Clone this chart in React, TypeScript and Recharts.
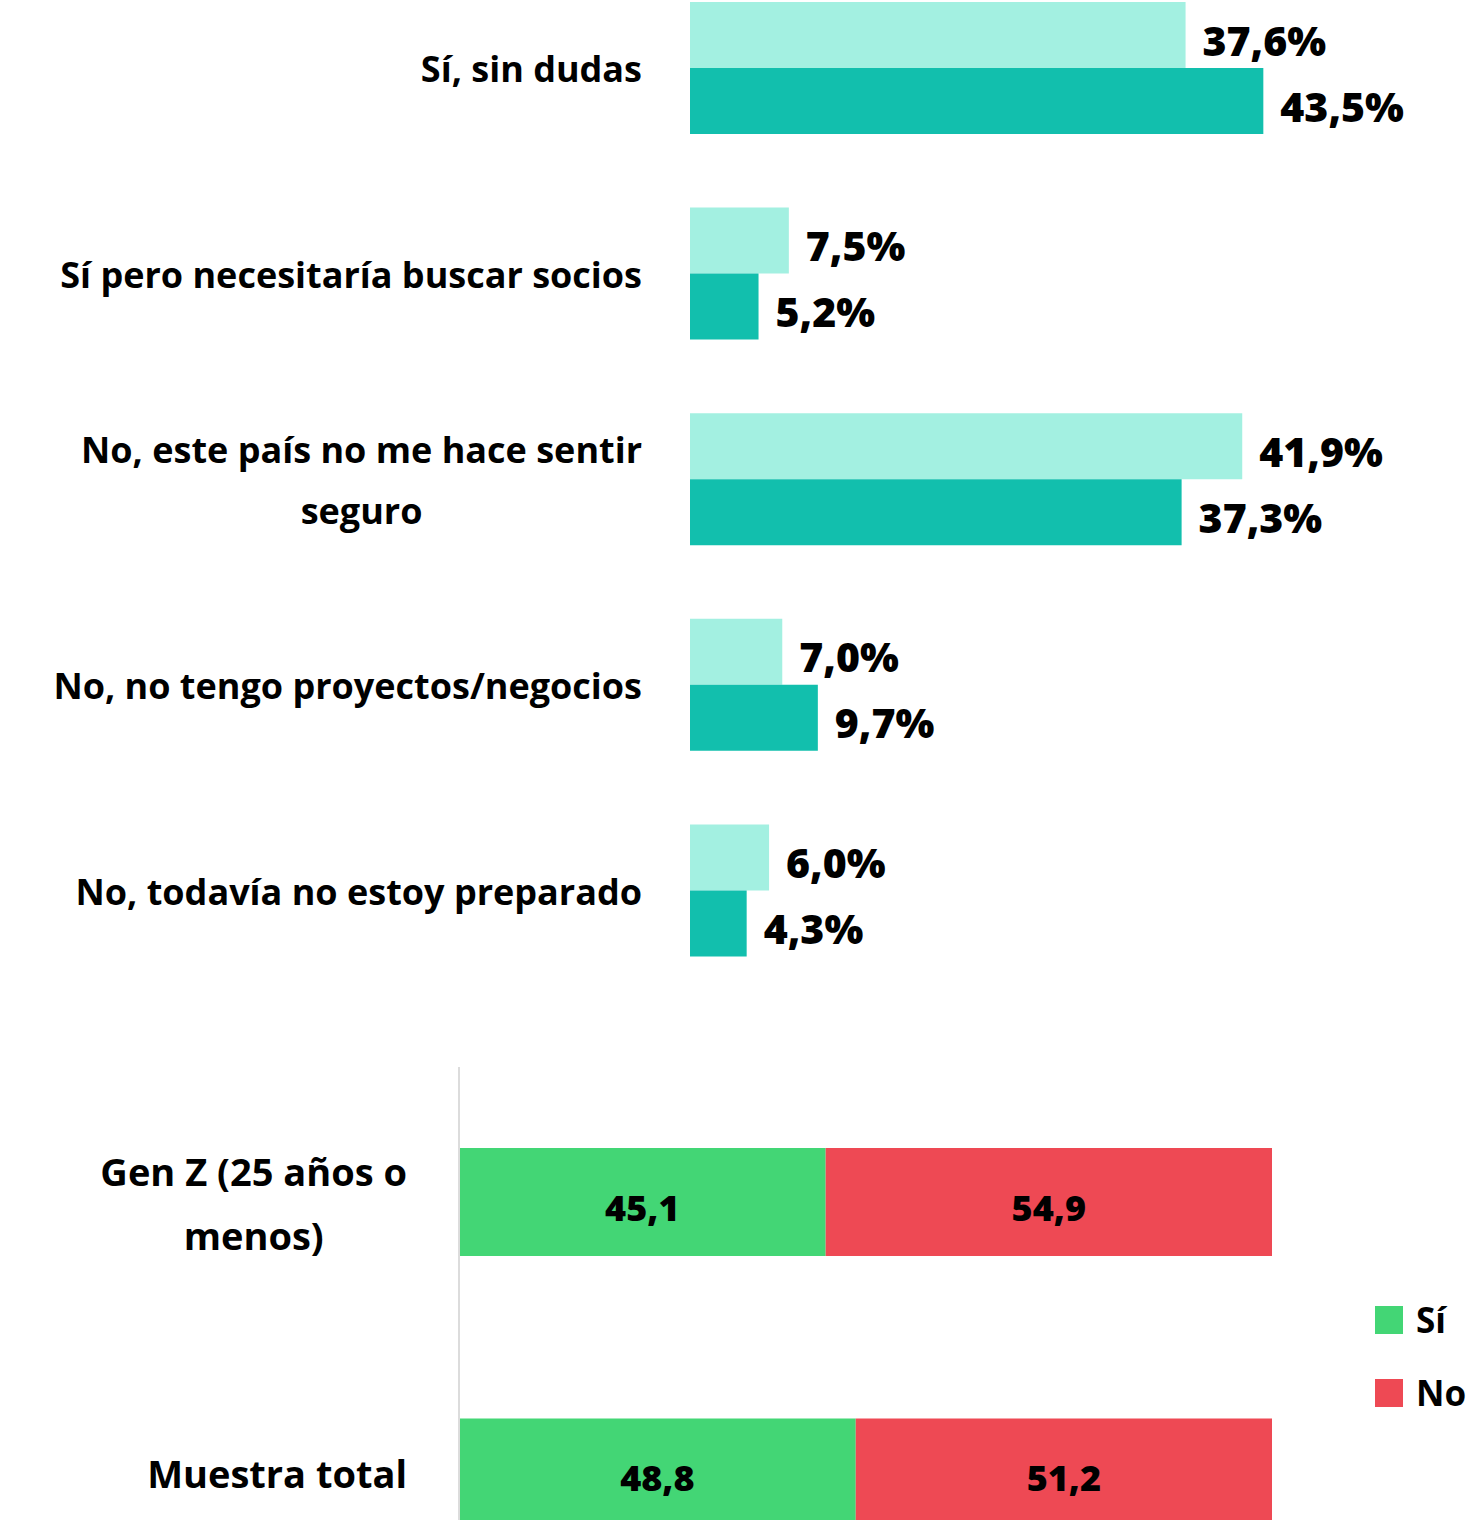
import React from 'react';
import { BarChart, Bar, XAxis, YAxis, LabelList, Legend } from 'recharts';

// top chart: answers, two series
const answers = [
  'Sí, sin dudas',
  'Sí pero necesitaría buscar socios',
  'No, este país no me hace sentir\nseguro',
  'No, no tengo proyectos/negocios',
  'No, todavía no estoy preparado',
];
const genZ = [37.6, 7.5, 41.9, 7.0, 6.0];
const total = [43.5, 5.2, 37.3, 9.7, 4.3];

// bottom chart: Sí / No split
const groups = ['Gen Z (25 años o\nmenos)', 'Muestra total'];
const siValues = [45.1, 48.8];
const noValues = [54.9, 51.2];

const FONT = '"Open Sans", "Noto Sans", sans-serif';
const LIGHT = '#a3f0e1';
const DARK = '#12bfad';
const GREEN = '#43d675';
const RED = '#ee4954';

const topData = answers.map((name, i) => ({ name, genZ: genZ[i], total: total[i] }));
const bottomData = groups.map((name, i) => ({ name, si: siValues[i], no: noValues[i] }));

const fmt = (v: number) => v.toFixed(1).replace('.', ',');

let ctx: CanvasRenderingContext2D | null = null;
function measure(text: string, font: string) {
  if (!ctx) ctx = document.createElement('canvas').getContext('2d');
  if (!ctx) return text.length * 18;
  ctx.font = font;
  return ctx.measureText(text).width;
}

function WrapTick(props: any) {
  const { x, y, payload, gap, size, lineHeight, shift } = props;
  const lines = String(payload.value).split('\n');
  const font = `700 ${size}px ${FONT}`;
  const w = Math.max(...lines.map((l) => measure(l, font)));
  const cx = x - gap - w / 2;
  const y0 = y + (shift || 0) - ((lines.length - 1) * lineHeight) / 2;
  return (
    <text textAnchor="middle" fontFamily={FONT} fontWeight={700} fontSize={size} fill="#000">
      {lines.map((l, i) => (
        <tspan key={i} x={cx} y={y0 + i * lineHeight} dy="0.35em">
          {l}
        </tspan>
      ))}
    </text>
  );
}

function LegendBox(props: any) {
  const order = ['Sí', 'No'];
  const items = [...(props.payload || [])].sort(
    (a: any, b: any) => order.indexOf(a.value) - order.indexOf(b.value)
  );
  return (
    <div style={{ fontFamily: FONT, fontWeight: 700, fontSize: 35, color: '#000' }}>
      {items.map((it: any) => (
        <div key={it.value} style={{ display: 'flex', alignItems: 'center', height: 73 }}>
          <span style={{ width: 28, height: 28, background: it.color, display: 'inline-block', marginRight: 13 }} />
          <span>{it.value}</span>
        </div>
      ))}
    </div>
  );
}

const valueLabel = {
  fill: '#000',
  fontSize: 41,
  fontWeight: 800,
  fontFamily: FONT,
  dy: 6,
};

export default function App() {
  return (
    <div style={{ position: 'absolute', left: 0, top: 0, width: 1472, height: 1520, overflow: 'hidden', background: '#fff' }}>
      <div style={{ position: 'absolute', left: 0, top: -35 }}>
        <BarChart
          layout="vertical"
          width={1472}
          height={1028}
          data={topData}
          margin={{ top: 0, right: 123, bottom: 0, left: 0 }}
          barGap={0}
        >
          <XAxis type="number" domain={[0, 50]} hide />
          <YAxis
            type="category"
            dataKey="name"
            width={690}
            axisLine={false}
            tickLine={false}
            tickSize={0}
            tickMargin={0}
            interval={0}
            tick={(p: any) => <WrapTick {...p} gap={48} size={36} lineHeight={61} shift={2} />}
          />
          <Bar dataKey="genZ" name="Gen Z" fill={LIGHT} barSize={66} isAnimationActive={false}>
            <LabelList
              dataKey="genZ"
              position="right"
              offset={17}
              formatter={(v: any) => fmt(Number(v)) + '%'}
              {...valueLabel}
            />
          </Bar>
          <Bar dataKey="total" name="Muestra total" fill={DARK} barSize={66} isAnimationActive={false}>
            <LabelList
              dataKey="total"
              position="right"
              offset={17}
              formatter={(v: any) => fmt(Number(v)) + '%'}
              {...valueLabel}
            />
          </Bar>
        </BarChart>
      </div>

      <div style={{ position: 'absolute', left: 0, top: 1067 }}>
        <BarChart
          layout="vertical"
          width={1472}
          height={541}
          data={bottomData}
          margin={{ top: 0, right: 200, bottom: 0, left: 0 }}
        >
          <XAxis type="number" domain={[0, 100]} hide />
          <YAxis
            type="category"
            dataKey="name"
            width={459}
            axisLine={{ stroke: '#dcdcdc', strokeWidth: 2 }}
            tickLine={false}
            tickSize={0}
            tickMargin={0}
            interval={0}
            tick={(p: any) => <WrapTick {...p} gap={52} size={38} lineHeight={64} shift={2} />}
          />
          <Legend
            layout="vertical"
            align="center"
            verticalAlign="middle"
            content={<LegendBox />}
            wrapperStyle={{ position: 'absolute', left: 1375, top: 216, width: 100, height: 150 }}
          />
          <Bar dataKey="si" name="Sí" stackId="s" fill={GREEN} barSize={108} isAnimationActive={false}>
            <LabelList
              dataKey="si"
              position="center"
              formatter={(v: any) => fmt(Number(v))}
              {...valueLabel}
              fontSize={36}
            />
          </Bar>
          <Bar dataKey="no" name="No" stackId="s" fill={RED} barSize={108} isAnimationActive={false}>
            <LabelList
              dataKey="no"
              position="center"
              formatter={(v: any) => fmt(Number(v))}
              {...valueLabel}
              fontSize={36}
            />
          </Bar>
        </BarChart>
      </div>
    </div>
  );
}
